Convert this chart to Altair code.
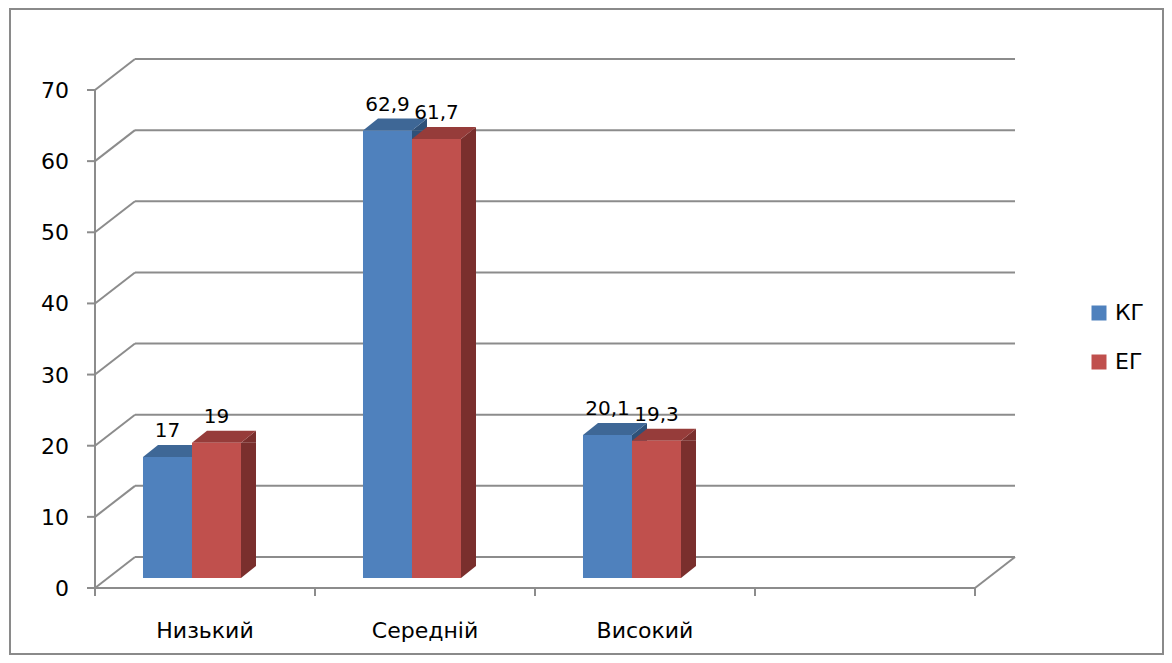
import altair as alt
import pandas as pd

# ---- data ----
categories = ["Низький", "Середній", "Високий"]
series = ["КГ", "ЕГ"]
kg_values = [17, 62.9, 20.1]
eg_values = [19, 61.7, 19.3]
y_ticks = [0, 10, 20, 30, 40, 50, 60, 70]
empty_slot = " "

# ---- style ----
FONT = "DejaVu Sans"
GRID = "#8c8c8c"
front_colors = ["#4F81BD", "#C0504D"]
top_colors = ["#3E6796", "#963C3A"]
side_colors = ["#2F5178", "#7A2F2D"]

W, H = 880, 498
PAD = {"left": 87, "top": 72, "right": 189, "bottom": 77}
SHIFT = -13          # bars sit a little left of the band centre
BAR_W = 49           # one bar's front face
HALF = BAR_W / 2
DX, DY = 15, 12      # bar depth (pixels)
BACK_DX, FRONT_DY, BACK_DY = 40, 10, -21


def fmt(v):
    return f"{v:g}".replace(".", ",")


rows = []
for i, c in enumerate(categories):
    for s, vals in zip(series, [kg_values, eg_values]):
        rows.append({"cat": c, "series": s, "value": vals[i], "label": fmt(vals[i])})
df = pd.DataFrame(rows)

grid_df = pd.DataFrame({"v": y_ticks})
cat_domain = categories + [empty_slot]
cat_df = pd.DataFrame({"cat": categories})
slot_df = pd.DataFrame({"cat": cat_domain})

xs = alt.Scale(domain=cat_domain, paddingInner=0.5545, paddingOuter=0.27725)
xo = alt.Scale(domain=series, range=[SHIFT, SHIFT + 2 * BAR_W], paddingInner=0, paddingOuter=0)
ys = alt.Scale(domain=[min(y_ticks), max(y_ticks)], nice=False, zero=True)

Y = alt.Y("v:Q", scale=ys, axis=None)
grid = alt.Chart(grid_df)
lowest = grid.transform_filter(alt.datum.v == min(y_ticks))
highest = grid.transform_filter(alt.datum.v == max(y_ticks))

# ---- frame ----
back_grid = grid.mark_rule(yOffset=BACK_DY, stroke=GRID, strokeWidth=2).encode(
    y=Y, x=alt.value(BACK_DX), x2=alt.value(W + BACK_DX))
diag = grid.mark_rule(yOffset=FRONT_DY, y2Offset=BACK_DY, stroke=GRID, strokeWidth=2).encode(
    y=Y, y2="v:Q", x=alt.value(0), x2=alt.value(BACK_DX))
ytick_marks = grid.mark_rule(yOffset=FRONT_DY, stroke=GRID, strokeWidth=2).encode(
    y=Y, x=alt.value(-8), x2=alt.value(0))
ytick_labels = grid.mark_text(align="right", baseline="middle", dy=FRONT_DY + 1,
                              font=FONT, fontSize=22, color="#000000").encode(
    y=Y, x=alt.value(-26), text="v:Q")
y_axis_line = highest.transform_calculate(base="0").mark_rule(
    yOffset=FRONT_DY, y2Offset=FRONT_DY, stroke=GRID, strokeWidth=2).encode(
    y=Y, y2="base:Q", x=alt.value(0))
floor_front = lowest.mark_rule(yOffset=FRONT_DY, stroke=GRID, strokeWidth=2).encode(
    y=Y, x=alt.value(0), x2=alt.value(W))
floor_right = lowest.mark_rule(yOffset=FRONT_DY, y2Offset=BACK_DY, stroke=GRID, strokeWidth=2).encode(
    y=Y, y2="v:Q", x=alt.value(W), x2=alt.value(W + BACK_DX))
xtick_marks = alt.Chart(slot_df).transform_calculate(base="0").mark_rule(
    xOffset=-110, yOffset=FRONT_DY, y2Offset=FRONT_DY + 8, stroke=GRID, strokeWidth=2).encode(
    x=alt.X("cat:N", scale=xs, axis=None), y=alt.Y("base:Q", scale=ys, axis=None), y2="base:Q")
xtick_last = lowest.mark_rule(yOffset=FRONT_DY, y2Offset=FRONT_DY + 8, stroke=GRID, strokeWidth=2).encode(
    x=alt.value(W), y=Y, y2="v:Q")
cat_labels = alt.Chart(cat_df).mark_text(baseline="alphabetic", font=FONT, fontSize=22, color="#000000").encode(
    x=alt.X("cat:N", scale=xs, axis=None), y=alt.value(H + 60), text="cat:N")
outer = lowest.mark_rect(fillOpacity=0, stroke="#8a8a8a", strokeWidth=2).encode(
    x=alt.value(-85), x2=alt.value(1068), y=alt.value(-71), y2=alt.value(574))

# ---- bars (3-D look) ----
bars = alt.Chart(df).transform_calculate(base="0")
base = bars.encode(
    x=alt.X("cat:N", scale=xs, axis=None),
    xOffset=alt.XOffset("series:N", scale=xo),
    y=alt.Y("value:Q", scale=ys, axis=None),
)
side_c = alt.Color("series:N", scale=alt.Scale(domain=series, range=side_colors), legend=None)
top_c = alt.Color("series:N", scale=alt.Scale(domain=series, range=top_colors), legend=None)

# side faces: a thick vertical rule (one layer per series) + two small triangles
side_layers = []
for k, s in enumerate(series):
    centre = SHIFT + (k - len(series) / 2) * BAR_W + BAR_W + DX / 2
    side_layers.append(
        bars.transform_filter(alt.datum.series == s).mark_rule(
            strokeWidth=DX, strokeCap="butt", xOffset=centre, y2Offset=-DY).encode(
            x=alt.X("cat:N", scale=xs, axis=None),
            y=alt.Y("value:Q", scale=ys, axis=None), y2="base:Q", color=side_c))
tri_top = f"M {HALF} 0 L {HALF + DX} {-DY} L {HALF + DX} 0 Z"
side_top = base.mark_point(shape=tri_top, size=4, filled=True, opacity=1, strokeWidth=0).encode(color=side_c)
tri_bot = f"M {HALF} {-DY} L {HALF} 0 L {HALF + DX} {-DY} Z"
side_bot = base.mark_point(shape=tri_bot, size=4, filled=True, opacity=1, strokeWidth=0).encode(
    y=alt.Y("base:Q", scale=ys, axis=None), color=side_c)
para = f"M {-HALF} 0 L {HALF} 0 L {HALF + DX} {-DY} L {-HALF + DX} {-DY} Z"
top_face = base.mark_point(shape=para, size=4, filled=True, opacity=1, strokeWidth=0).encode(color=top_c)
front = base.mark_bar().encode(
    color=alt.Color("series:N", scale=alt.Scale(domain=series, range=front_colors),
                    legend=alt.Legend(orient="none", legendX=993, legendY=222, title=None,
                                      symbolType="square", symbolSize=225, symbolStrokeWidth=0,
                                      labelFont=FONT, labelFontSize=22, labelColor="#000000",
                                      rowPadding=27, labelOffset=5, padding=0)))
bar_labels = base.mark_text(dy=-20, baseline="alphabetic", font=FONT, fontSize=20,
                            color="#000000").encode(text="label:N")

chart = alt.layer(
    outer, back_grid, diag, ytick_marks, y_axis_line, floor_front, floor_right,
    xtick_marks, xtick_last, ytick_labels, cat_labels,
    *side_layers, side_top, side_bot, top_face, front, bar_labels,
).resolve_scale(color="independent").properties(
    width=W, height=H, padding=PAD, autosize=alt.AutoSizeParams(type="none"),
    background="#ffffff",
).configure_view(stroke=None)

chart.save("out.html", embed_options={"renderer": "svg", "actions": False})
